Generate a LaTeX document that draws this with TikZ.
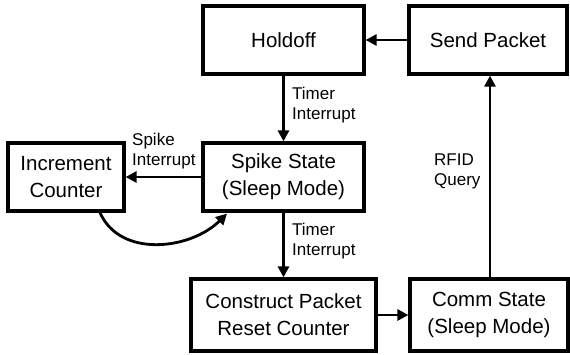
\documentclass[tikz,border=0pt]{standalone}
\usepackage{fontspec}
\setmainfont{Liberation Sans}
\usetikzlibrary{arrows.meta}
\begin{document}
\begin{tikzpicture}[x=1pt,y=-1pt,
  statebox/.style={draw, line width=3.2pt, minimum width=#1, minimum height=68pt, inner sep=0pt, align=center, font=\fontsize{20.5}{27}\selectfont},
  statebox/.default=161pt,
  conn/.style={line width=2.8pt, -{Triangle[length=11pt,width=11pt]}},
  lbl/.style={font=\fontsize{17}{20}\selectfont, align=left, inner sep=0pt}]
\useasboundingbox (0,0) rectangle (570,354);
\node[statebox] (hold) at (283.5,40) {Holdoff};
\node[statebox=158pt] (send) at (488,40) {Send Packet};
\node[statebox=116pt] (inc) at (66,177) {Increment\\Counter};
\node[statebox] (spike) at (283.5,177) {Spike State\\(Sleep Mode)};
\node[statebox=185pt, minimum height=72pt] (cons) at (283.5,315) {Construct Packet\\Reset Counter};
\node[statebox=158pt, minimum height=72pt] (comm) at (489,315) {Comm State\\(Sleep Mode)};
\draw[conn] (send.west) -- (hold.east);
\draw[conn] (hold.south) -- (spike.north);
\draw[conn] (spike.west) -- (inc.east);
\draw[conn] (spike.south) -- (cons.north);
\draw[conn] (cons.east) -- (comm.west |- cons.east);
\coordinate (cs) at (490,0);
\draw[conn] (comm.north -| cs) -- (send.south -| cs);
\coordinate (ib) at (100,0);
\coordinate (sb) at (227,0);
\draw[conn] (inc.south -| ib) .. controls (120,258) and (190,250) .. ([yshift=-1pt]spike.south -| sb);
\node[lbl, anchor=north west] (l1) at (292,87) {Timer\\Interrupt};
\node[lbl, anchor=north west] (l2) at (292,223) {Timer\\Interrupt};
\node[lbl, anchor=north west] (l3) at (132,133) {Spike\\Interrupt};
\node[lbl, anchor=north west] (l4) at (434,154) {RFID\\Query};
\end{tikzpicture}
\end{document}
